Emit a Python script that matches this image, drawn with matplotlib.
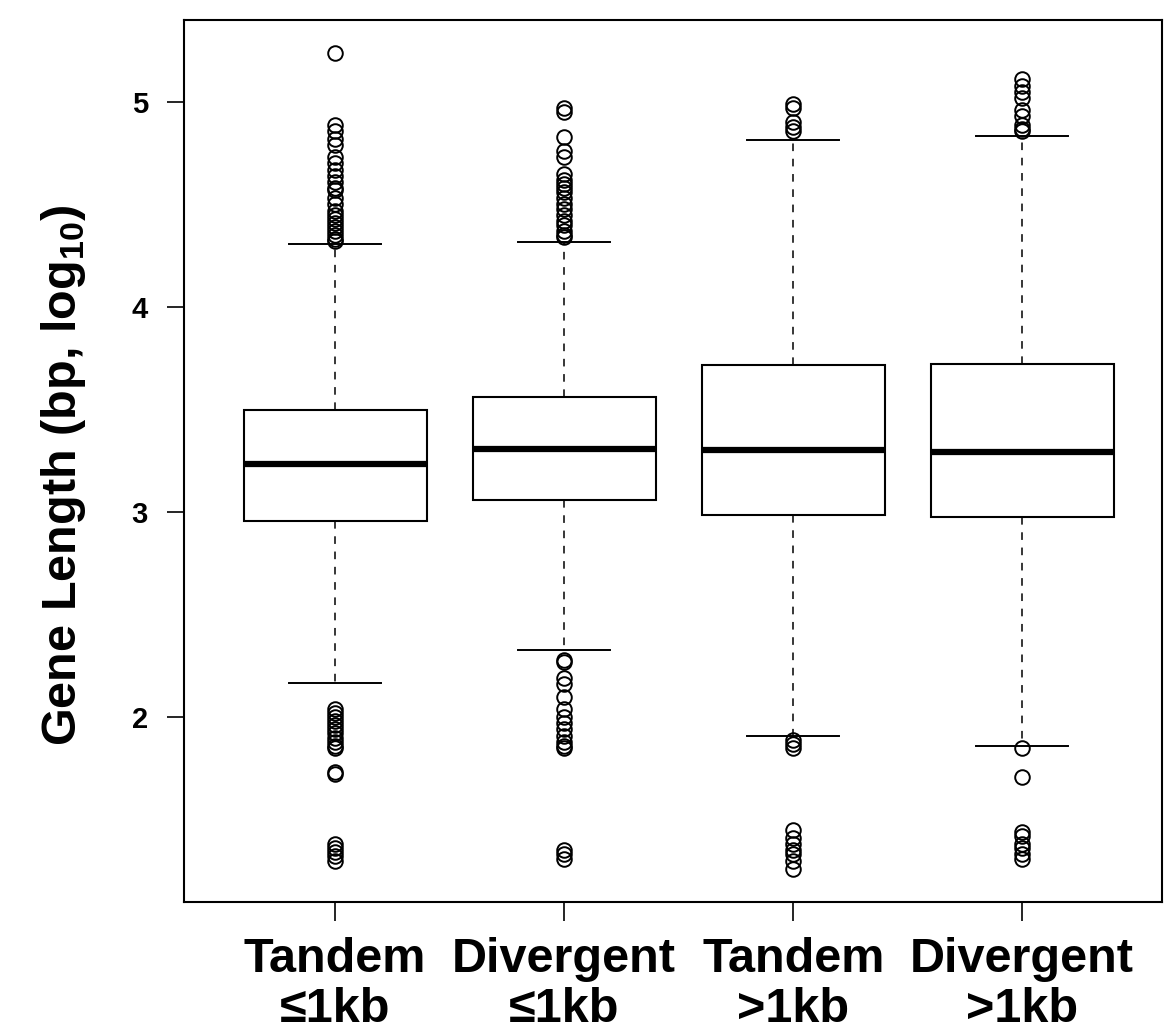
import matplotlib
matplotlib.use("Agg")
import matplotlib.pyplot as plt

plt.rcParams['font.family'] = ['Liberation Sans', 'DejaVu Sans']
plt.rcParams['mathtext.fontset'] = 'custom'
plt.rcParams['mathtext.rm'] = 'Liberation Sans'
plt.rcParams['mathtext.bf'] = 'Liberation Sans:bold'

# Group labels
categories = ["Tandem\n\u22641kb", "Divergent\n\u22641kb", "Tandem\n>1kb", "Divergent\n>1kb"]

# Box statistics (log10 gene length, bp)
medians = [3.235, 3.308, 3.302, 3.293]
q1 = [2.958, 3.057, 2.988, 2.976]
q3 = [3.498, 3.561, 3.718, 3.723]
whisker_low = [2.167, 2.327, 1.907, 1.860]
whisker_high = [4.305, 4.318, 4.815, 4.834]

# Outlying genes per group
outliers_tandem_le1 = [5.24, 4.89, 4.86, 4.82, 4.79, 4.73, 4.70, 4.67, 4.64, 4.61,
                       4.58, 4.57, 4.53, 4.50, 4.47, 4.45, 4.43, 4.41, 4.39, 4.37,
                       4.35, 4.33, 4.32,
                       2.04, 2.02, 2.00, 1.98, 1.96, 1.94, 1.92, 1.90, 1.88, 1.86,
                       1.85, 1.73, 1.72, 1.38, 1.36, 1.34, 1.32, 1.30]
outliers_divergent_le1 = [4.97, 4.95, 4.83, 4.76, 4.73, 4.65, 4.62, 4.60, 4.58, 4.56,
                          4.53, 4.50, 4.48, 4.45, 4.42, 4.40, 4.37, 4.35, 4.34,
                          2.28, 2.27, 2.19, 2.16, 2.10, 2.04, 2.00, 1.97, 1.94, 1.91,
                          1.88, 1.86, 1.85, 1.35, 1.33, 1.31]
outliers_tandem_gt1 = [4.99, 4.97, 4.90, 4.88, 4.86,
                       1.89, 1.87, 1.85, 1.45, 1.41, 1.38, 1.35, 1.33, 1.30, 1.26]
outliers_divergent_gt1 = [5.11, 5.08, 5.05, 5.02, 4.96, 4.93, 4.89, 4.87, 4.86,
                          1.85, 1.71, 1.44, 1.42, 1.38, 1.36, 1.33, 1.31]

fliers = [outliers_tandem_le1, outliers_divergent_le1,
          outliers_tandem_gt1, outliers_divergent_gt1]

stats = []
for i in range(len(categories)):
    stats.append(dict(med=medians[i], q1=q1[i], q3=q3[i],
                      whislo=whisker_low[i], whishi=whisker_high[i],
                      fliers=fliers[i], label=categories[i]))

fig = plt.figure(figsize=(11.76, 10.35), dpi=100)
ax = fig.add_axes([0.1565, 0.1285, 0.988 - 0.1565, 0.9807 - 0.1285])

positions = [1, 2, 3, 4]
ax.bxp(stats, positions=positions, widths=0.8, capwidths=0.4,
       patch_artist=True,
       boxprops=dict(facecolor='white', edgecolor='black', linewidth=1.5),
       medianprops=dict(color='black', linewidth=4.5, solid_capstyle='butt'),
       whiskerprops=dict(color='black', linewidth=1.1, linestyle=(0, (5, 5))),
       capprops=dict(color='black', linewidth=1.4),
       flierprops=dict(marker='o', markerfacecolor='none', markeredgecolor='black',
                       markersize=10.5, markeredgewidth=1.4, linestyle='none'))

ax.set_xlim(0.34, 4.61)
ax.set_ylim(1.098, 5.40)
ax.set_yticks([2, 3, 4, 5])
ax.set_yticklabels(['2', '3', '4', '5'], fontsize=21, fontweight='bold')
ax.set_xticks(positions)
ax.set_xticklabels(categories, fontsize=35, fontweight='bold', linespacing=1.15)
ax.tick_params(axis='y', length=12, width=1.2, pad=14)
ax.tick_params(axis='x', length=14, width=1.2, pad=11)

for side in ['top', 'right', 'bottom', 'left']:
    ax.spines[side].set_linewidth(1.5)

ax.set_ylabel('Gene Length (bp, log$_{\\mathbf{10}}$)', fontsize=35, fontweight='bold')
ax.yaxis.set_label_coords(-0.098, 0.484)

fig.savefig('out.png', dpi=100, facecolor='white')
